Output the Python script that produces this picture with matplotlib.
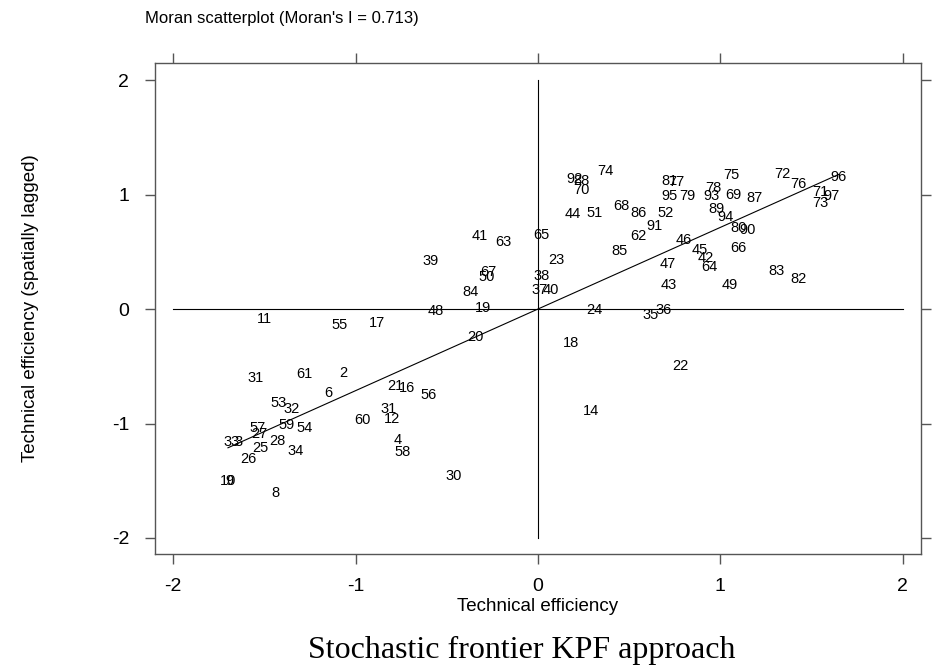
import matplotlib
matplotlib.use("Agg")
import matplotlib.pyplot as plt
import numpy as np

# ── Data (x = efficiency, y = spatially lagged) ─────────────────────────────
labels = ["11", "55", "17", "48", "19", "20", "31", "61", "2", "6",
          "21", "16", "56", "53", "32", "31", "12", "60", "57", "27",
          "59", "54", "33", "3", "25", "28", "34", "26", "4", "58",
          "30", "10", "9", "8",
          "41", "63", "65", "39", "23", "67", "50", "38", "37", "40",
          "84", "18",
          "92", "88", "70", "74", "44", "51", "68", "86", "81", "77",
          "95", "79", "52", "91", "62", "85", "46", "47", "43", "24",
          "35", "36", "75", "78", "93", "69", "89", "94", "80", "90",
          "66", "45", "42", "64", "49",
          "72", "76", "96", "71", "97", "73", "87", "83", "82", "14", "22"]
x_vals = [-1.50, -1.09, -0.88, -0.56, -0.30, -0.34, -1.55, -1.28, -1.07, -1.15,
          -0.78, -0.72, -0.60, -1.42, -1.35, -0.82, -0.80, -0.96, -1.54, -1.53,
          -1.38, -1.28, -1.68, -1.64, -1.52, -1.43, -1.33, -1.59, -0.77, -0.74,
          -0.46, -1.70, -1.69, -1.44,
          -0.32, -0.19, 0.02, -0.59, 0.10, -0.27, -0.28, 0.02, 0.01, 0.07,
          -0.37, 0.18,
          0.20, 0.24, 0.24, 0.37, 0.19, 0.31, 0.46, 0.55, 0.72, 0.76,
          0.72, 0.82, 0.70, 0.64, 0.55, 0.45, 0.80, 0.71, 0.72, 0.31,
          0.62, 0.69, 1.06, 0.96, 0.95, 1.07, 0.98, 1.03, 1.10, 1.15,
          1.10, 0.89, 0.92, 0.94, 1.05,
          1.34, 1.43, 1.65, 1.55, 1.61, 1.55, 1.19, 1.31, 1.43, 0.29, 0.78]
y_vals = [-0.09, -0.14, -0.12, -0.02, 0.01, -0.24, -0.60, -0.57, -0.56, -0.73,
          -0.67, -0.69, -0.75, -0.82, -0.87, -0.87, -0.96, -0.97, -1.04, -1.09,
          -1.01, -1.04, -1.16, -1.16, -1.21, -1.15, -1.24, -1.31, -1.14, -1.25,
          -1.46, -1.50, -1.50, -1.61,
          0.64, 0.59, 0.65, 0.42, 0.43, 0.32, 0.28, 0.29, 0.17, 0.17,
          0.15, -0.30,
          1.14, 1.12, 1.04, 1.21, 0.83, 0.84, 0.90, 0.84, 1.12, 1.11,
          0.99, 0.99, 0.84, 0.73, 0.64, 0.51, 0.60, 0.39, 0.21, -0.01,
          -0.05, -0.01, 1.17, 1.06, 0.99, 1.00, 0.87, 0.80, 0.71, 0.69,
          0.53, 0.52, 0.45, 0.37, 0.21,
          1.18, 1.09, 1.15, 1.02, 0.99, 0.93, 0.97, 0.33, 0.26, -0.89, -0.50]

moran_i = 0.713
ticks = [-2, -1, 0, 1, 2]

plt.rcParams["font.family"] = ["Liberation Sans", "DejaVu Sans"]

fig = plt.figure(figsize=(9.34, 6.68), dpi=100)
ax = fig.add_axes([0.166, 0.1707, 0.8198, 0.735])
ax.set_xlim(-2.1, 2.1)
ax.set_ylim(-2.14, 2.15)

# quadrant lines and regression line through the origin
ax.plot([-2, 2], [0, 0], color="black", lw=0.8)
ax.plot([0, 0], [-2, 2], color="black", lw=0.8)
xs = np.array([min(x_vals), max(x_vals)])
ax.plot(xs, moran_i * xs, color="black", lw=0.8)

for lab, xv, yv in zip(labels, x_vals, y_vals):
    ax.text(xv, yv, lab, ha="center", va="center", fontsize=10.5, color="black")

# lattice-style frame with outward ticks on all sides
for sp in ax.spines.values():
    sp.set_color("#555555")
    sp.set_linewidth(1.0)
ax.set_xticks(ticks)
ax.set_yticks(ticks)
ax.set_xticklabels([str(t) for t in ticks])
ax.set_yticklabels([str(t) for t in ticks])
ax.tick_params(direction="out", length=7.5, width=1.0, color="#555555",
               labelsize=14, top=True, right=True)
ax.tick_params(axis="x", pad=10)
ax.tick_params(axis="y", pad=11)

ax.set_xlabel("Technical efficiency", fontsize=13.5, va="center")
ax.xaxis.set_label_coords(0.5, -0.106)
ax.set_ylabel("Technical efficiency (spatially lagged)", fontsize=13.5, va="center")
ax.yaxis.set_label_coords(-0.163, 0.5)

fig.text(0.155, 0.972, "Moran scatterplot (Moran's I = 0.713)",
         ha="left", va="center", fontsize=12)
fig.text(0.559, 0.026, "Stochastic frontier KPF approach",
         ha="center", va="center", fontsize=23, family="Liberation Serif")

fig.savefig("out.png", dpi=100, facecolor="white")
